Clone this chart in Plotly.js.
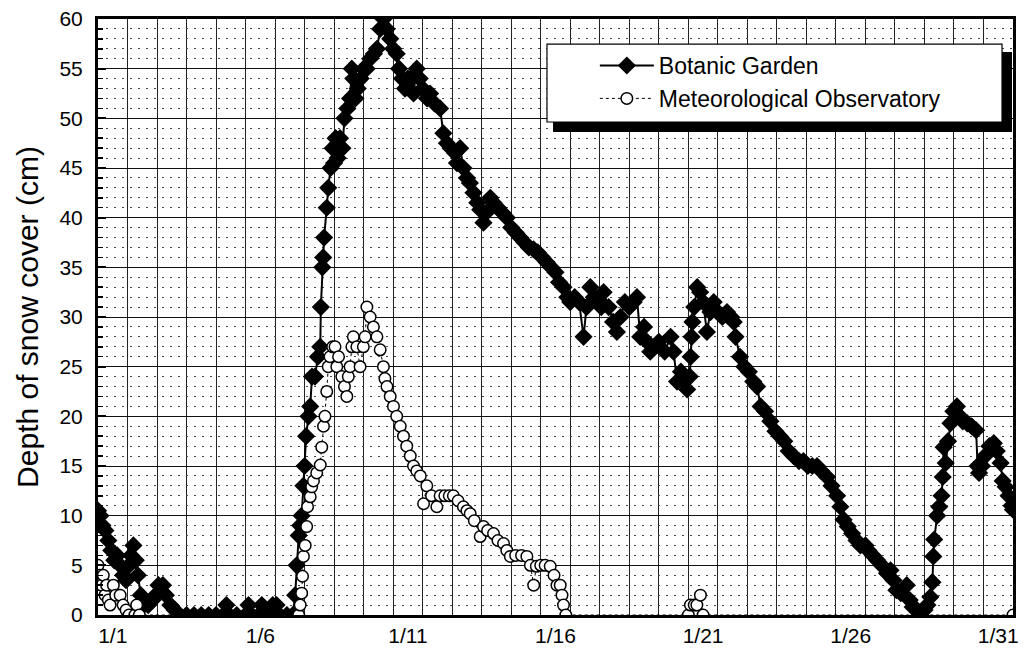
<!DOCTYPE html>
<html>
<head>
<meta charset="utf-8">
<script src="https://cdn.plot.ly/plotly-3.0.1.min.js"></script>
<style>html,body{margin:0;padding:0;background:#fff}</style>
</head>
<body>
<div id="chart" style="width:1029px;height:650px"></div>
<script>
// Time in days since 1 Jan 00:00, depth in cm
const bgDays = [0.00,0.08,0.15,0.25,0.35,0.45,0.55,0.65,0.75,0.85,0.95,1.05,1.12,1.2,1.28,1.35,1.45,1.55,1.7,1.85,1.95,2.05,2.2,2.3,2.45,2.6,2.75,3.0,3.25,3.5,3.75,4.0,4.25,4.35,4.45,4.7,5.0,5.1,5.2,5.45,5.55,5.65,5.8,5.92,6.05,6.15,6.4,6.6,6.68,6.73,6.8,6.85,6.9,6.96,7.0,7.05,7.13,7.19,7.25,7.35,7.45,7.53,7.55,7.6,7.63,7.66,7.75,7.8,7.88,7.95,8.0,8.05,8.12,8.2,8.28,8.35,8.45,8.54,8.6,8.65,8.72,8.8,8.9,9.0,9.1,9.22,9.35,9.45,9.56,9.67,9.78,9.9,10.0,10.12,10.2,10.3,10.4,10.5,10.6,10.69,10.8,10.9,11.0,11.15,11.25,11.4,11.59,11.7,11.82,11.95,12.1,12.16,12.27,12.38,12.5,12.6,12.72,12.85,12.95,13.06,13.15,13.29,13.4,13.55,13.7,13.85,14.0,14.15,14.3,14.45,14.6,14.76,14.9,15.05,15.2,15.35,15.5,15.62,15.77,15.9,16.0,16.15,16.3,16.45,16.55,16.68,16.8,16.95,17.05,17.13,17.3,17.45,17.58,17.7,17.85,18.0,18.15,18.26,18.37,18.5,18.6,18.71,18.85,19.0,19.2,19.4,19.5,19.62,19.75,19.85,19.96,20.05,20.08,20.11,20.14,20.2,20.3,20.4,20.5,20.63,20.75,20.86,21.0,21.15,21.31,21.45,21.54,21.6,21.75,21.9,22.05,22.2,22.33,22.45,22.6,22.78,22.95,23.1,23.25,23.4,23.57,23.75,23.9,24.05,24.2,24.36,24.5,24.7,24.85,25.04,25.15,25.26,25.4,25.55,25.7,25.83,26.0,26.1,26.25,26.4,26.55,26.73,26.85,26.95,27.05,27.2,27.4,27.5,27.6,27.75,27.85,28.0,28.1,28.2,28.27,28.3,28.33,28.43,28.5,28.58,28.62,28.65,28.72,28.8,28.88,28.98,29.1,29.2,29.3,29.45,29.6,29.75,29.8,29.85,29.95,30.05,30.2,30.35,30.45,30.58,30.65,30.75,30.85,30.95,31.0];
const bgDepth = [10.5,10,9,8.5,7.5,6.5,5.5,6,5,4,3.5,5,6,7,5.5,4,2,1,1,1.5,2,3,3,2,1,0.5,0,0,0,0,0,0,0,1,0,0,0,1,0,0,1,0.5,0.5,1,1,0,0,0,2,5,8,9,10,13,15,18,20,21,24,24,26,27,31,35,36,38,41,43,45,47,45.5,48,46,48,47,50,51,52,55,54,52,53,54,55,55,56,56.5,57,59,60,59,58,57,56.5,55,54,53,54,54,52.5,55,54,53,52,52.5,51.5,51,48.5,47.5,47,46.5,45.5,47,45,44,43.5,42.5,41.5,40.8,39.5,40.5,42,41.5,41,40.5,40,39,38.5,38,37.5,37,36.8,36.5,36,35.5,35,34.5,33.5,33,32,31.5,32,31.5,28,31,33,32,31.5,31,32.5,31,29.5,28.5,30,31.5,31,31.5,32,28,29,27.5,26.5,27,27.5,26.5,28,26.5,23.5,24.5,23.5,22.7,24,26,28,29.5,31,33,32.5,31.5,28.5,30.5,31.5,30.5,30,30.5,30,29.5,28,26,25,24.5,23.5,23,21,20.5,19.5,18.5,18,17.5,16.5,16,15.5,15.5,15,15,15,14.5,13.9,13,12,10.9,9.6,8.9,8.2,7.5,7,7,6.5,6,5.5,5,4.2,4.5,3.5,2.5,2.2,3,1.5,0.8,0.5,0,0.5,1,1.8,3.3,5.9,7.6,10,10.9,12,13.9,16.9,15.3,17.5,19.3,20.5,21,20,19.5,19.3,19,18.6,15,14.3,15,16,17,17.3,16.5,15.3,13.5,12.9,12,11,10.6];

const moDays = [0.0,0.06,0.12,0.18,0.24,0.29,0.35,0.41,0.52,0.6,0.75,0.85,0.95,1.05,1.25,1.31,1.4,6.8,6.85,6.9,6.93,6.96,7.02,7.07,7.1,7.19,7.24,7.3,7.41,7.53,7.58,7.64,7.69,7.75,7.8,7.86,7.95,8.03,8.09,8.15,8.26,8.35,8.43,8.48,8.54,8.6,8.65,8.77,8.88,8.99,9.05,9.11,9.22,9.33,9.45,9.56,9.67,9.72,9.79,9.9,10.01,10.12,10.24,10.35,10.46,10.58,10.69,10.8,10.92,11.03,11.14,11.3,11.48,11.59,11.75,11.9,12.04,12.2,12.38,12.5,12.61,12.75,12.95,13.06,13.2,13.4,13.55,13.74,13.85,13.97,14.15,14.35,14.53,14.65,14.76,14.85,15.0,15.15,15.32,15.45,15.55,15.66,15.72,15.77,15.85,20.0,20.07,20.2,20.29,20.41,20.5,31.0];
const moDepth = [5,4,3,4,2,3,1.5,1,3,2,2,1,0.5,0,0,1,0,0,1,2.2,3.9,5.9,7,8.9,10.9,11.9,12.9,13.5,14.3,15.1,16.9,19,20,22.5,25,26,27,27,25,26,24,23,22,24,25,27,28,27,25,27,28,31,30,29,28,26.7,25,23.8,23,22,21,20,19,18,17,16,15,14.5,14,11.2,13,12,10.9,12,12,12,12,11.5,10.9,10.5,10.2,9.5,7.9,8.9,8.5,8.2,7.5,7.2,6.5,5.9,6,6,5.9,5,3,4.9,5,5,4.9,4,3,3,2,1,0,0,1,1,1,2,0,0];

const tickDays = [0.5,5.5,10.5,15.5,20.5,25.5,30.5];
const tickLabels = ['1/1','1/6','1/11','1/16','1/21','1/26','1/31'];

const traces = [
  {
    x: bgDays, y: bgDepth, type: 'scatter', mode: 'lines+markers',
    name: 'Botanic Garden',
    line: {color: '#000', width: 2},
    marker: {symbol: 'diamond', size: 14, color: '#000'}
  },
  {
    x: moDays, y: moDepth, type: 'scatter', mode: 'lines+markers',
    name: 'Meteorological Observatory',
    line: {color: '#000', width: 1, dash: 'dot'},
    marker: {symbol: 'circle', size: 11.5, color: '#fff', line: {color: '#000', width: 1.5}}
  }
];

const layout = {
  width: 1029, height: 650,
  margin: {l: 98, r: 16, t: 19, b: 35},
  paper_bgcolor: '#fff', plot_bgcolor: '#fff',
  font: {family: 'Liberation Sans, Arial, sans-serif', color: '#000', size: 21},
  showlegend: true,
  legend: {
    x: 0.543, y: 0.958, xanchor: 'left', yanchor: 'top',
    bgcolor: 'rgba(0,0,0,0)', borderwidth: 0,
    font: {size: 23}, itemwidth: 54, tracegroupgap: 0
  },
  xaxis: {
    range: [0, 31], tickmode: 'array', tickvals: tickDays, ticktext: tickLabels,
    showgrid: false, ticks: '', zeroline: false,
    showline: true, mirror: true, linecolor: '#000', linewidth: 3,
    tickfont: {size: 21},
    minor: {tick0: 0, dtick: 1, showgrid: true, gridcolor: '#222', gridwidth: 1, ticks: ''}
  },
  yaxis: {
    range: [0, 60], tick0: 0, dtick: 5, zeroline: false,
    showgrid: true, gridcolor: '#111', gridwidth: 1,
    ticks: 'inside', ticklen: 8, tickwidth: 2, tickcolor: '#000',
    showline: true, mirror: true, linecolor: '#000', linewidth: 3,
    tickfont: {size: 21}, ticklabelstandoff: 8,
    title: {text: 'Depth of snow cover (cm)', font: {size: 30}, standoff: 12},
    minor: {dtick: 1, ticks: 'inside', ticklen: 5, tickwidth: 1.5, tickcolor: '#000',
            showgrid: true, gridcolor: '#444', gridwidth: 1, griddash: '2px,6px'}
  },
  shapes: [
    // legend drop shadow
    {type: 'rect', xref: 'paper', yref: 'paper', layer: 'above',
     x0: 0.4973, x1: 0.9989, y0: 0.8104, y1: 0.9446,
     fillcolor: '#000', line: {width: 0}},
    // legend box
    {type: 'rect', xref: 'paper', yref: 'paper', layer: 'above',
     x0: 0.4907, x1: 0.988, y0: 0.8272, y1: 0.958,
     fillcolor: '#fff', line: {color: '#000', width: 1.2}}
  ]
};

Plotly.newPlot('chart', traces, layout, {displayModeBar: false, staticPlot: true});
</script>
</body>
</html>
